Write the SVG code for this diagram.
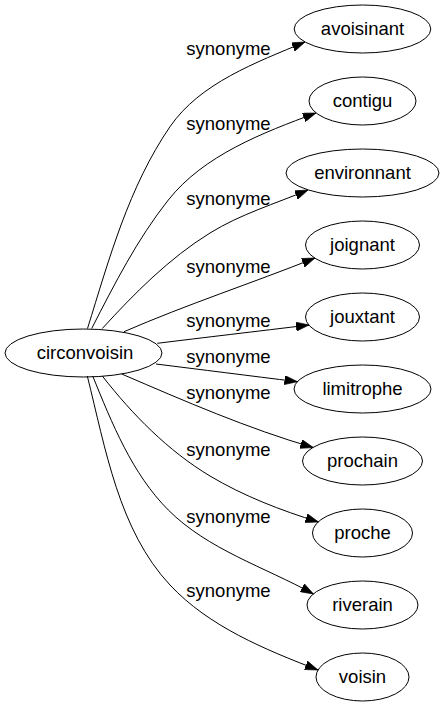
<svg xmlns="http://www.w3.org/2000/svg" width="445" height="707" viewBox="0 0 445 707">
<style>
.node ellipse{fill:none;stroke:#000;stroke-width:1}
.node text{font-family:"Liberation Sans",Arial,sans-serif;font-size:18.5px;text-anchor:middle;fill:#000}
.edge path{fill:none;stroke:#000;stroke-width:1;marker-end:url(#arrow)}
.elabel{font-family:"Liberation Sans",Arial,sans-serif;font-size:18.5px;text-anchor:middle;fill:#000}
</style>
<defs>
<marker id="arrow" viewBox="0 0 10 7" refX="10" refY="3.5" markerWidth="13" markerHeight="9.1" markerUnits="userSpaceOnUse" orient="auto">
<path d="M0,0 L10,3.5 L0,7 z" fill="#000" stroke="#000" stroke-width="0.5"/>
</marker>
</defs>
<rect width="445" height="707" fill="#fff"/>
<g id="connectors">
<g class="edge" id="e-avoisinant"><path d="M87.5,328.5 C109.2,258.8 128.7,186.9 170,126.7 C200,83 256.1,62.5 305,42"/><text class="elabel" x="228.5" y="55">synonyme</text></g>
<g class="edge" id="e-contigu"><path d="M91.7,328.5 C114.5,284 137.3,239.2 168.3,200 C203.7,155.3 262.5,132.8 316,113"/><text class="elabel" x="228.5" y="130">synonyme</text></g>
<g class="edge" id="e-environnant"><path d="M102.3,328.5 C134.7,293.1 169.2,258.2 210,233 C240.6,214.1 274.8,203.9 308,190"/><text class="elabel" x="228.5" y="205">synonyme</text></g>
<g class="edge" id="e-joignant"><path d="M124,331.7 C186.4,304.6 251.9,283.2 315,258"/><text class="elabel" x="228.5" y="273">synonyme</text></g>
<g class="edge" id="e-jouxtant"><path d="M157.3,343.3 C200,338 260,331 309,325"/><text class="elabel" x="228.5" y="326.5">synonyme</text></g>
<g class="edge" id="e-limitrophe"><path d="M156,364 C200,369.5 250,375.8 297.5,381.7"/><text class="elabel" x="228.5" y="362.5">synonyme</text></g>
<g class="edge" id="e-prochain"><path d="M121.7,374 C184.2,400.9 248,428.6 313.3,447.6"/><text class="elabel" x="228.5" y="399">synonyme</text></g>
<g class="edge" id="e-proche"><path d="M102.3,376 C132.5,414.6 168,450.8 210,476 C243.4,496 281.3,510.5 318.5,522"/><text class="elabel" x="228.5" y="455.5">synonyme</text></g>
<g class="edge" id="e-riverain"><path d="M92.7,376 C111.9,423.2 132.2,473.9 168.3,510 C207.9,549.6 264.5,567 313.5,594"/><text class="elabel" x="228.5" y="522.5">synonyme</text></g>
<g class="edge" id="e-voisin"><path d="M87.3,376 C105.5,448.8 118.8,530.25 170,585 C208.9,626.6 264.8,649.4 318,670"/><text class="elabel" x="228.5" y="597">synonyme</text></g>
</g>
<g class="node" id="circonvoisin"><ellipse cx="83.5" cy="353" rx="78.5" ry="24"/><text x="85" y="359">circonvoisin</text></g>
<g class="node" id="avoisinant"><ellipse cx="362.5" cy="29" rx="68.3" ry="24"/><text x="362.5" y="35">avoisinant</text></g>
<g class="node" id="contigu"><ellipse cx="362.5" cy="101" rx="53.5" ry="24"/><text x="362.5" y="107">contigu</text></g>
<g class="node" id="environnant"><ellipse cx="362.5" cy="173" rx="76.5" ry="24"/><text x="362.5" y="179">environnant</text></g>
<g class="node" id="joignant"><ellipse cx="362.5" cy="245" rx="57" ry="24"/><text x="362.5" y="251">joignant</text></g>
<g class="node" id="jouxtant"><ellipse cx="362.5" cy="317" rx="57" ry="24"/><text x="362.5" y="323">jouxtant</text></g>
<g class="node" id="limitrophe"><ellipse cx="362.5" cy="389" rx="68.5" ry="24"/><text x="362.5" y="395">limitrophe</text></g>
<g class="node" id="prochain"><ellipse cx="362.5" cy="461" rx="60" ry="24"/><text x="362.5" y="467">prochain</text></g>
<g class="node" id="proche"><ellipse cx="362.5" cy="533" rx="50" ry="24"/><text x="362.5" y="539">proche</text></g>
<g class="node" id="riverain"><ellipse cx="362.5" cy="605" rx="55.5" ry="24"/><text x="362.5" y="611">riverain</text></g>
<g class="node" id="voisin"><ellipse cx="362.5" cy="677" rx="46.5" ry="24"/><text x="362.5" y="683">voisin</text></g>
</svg>
